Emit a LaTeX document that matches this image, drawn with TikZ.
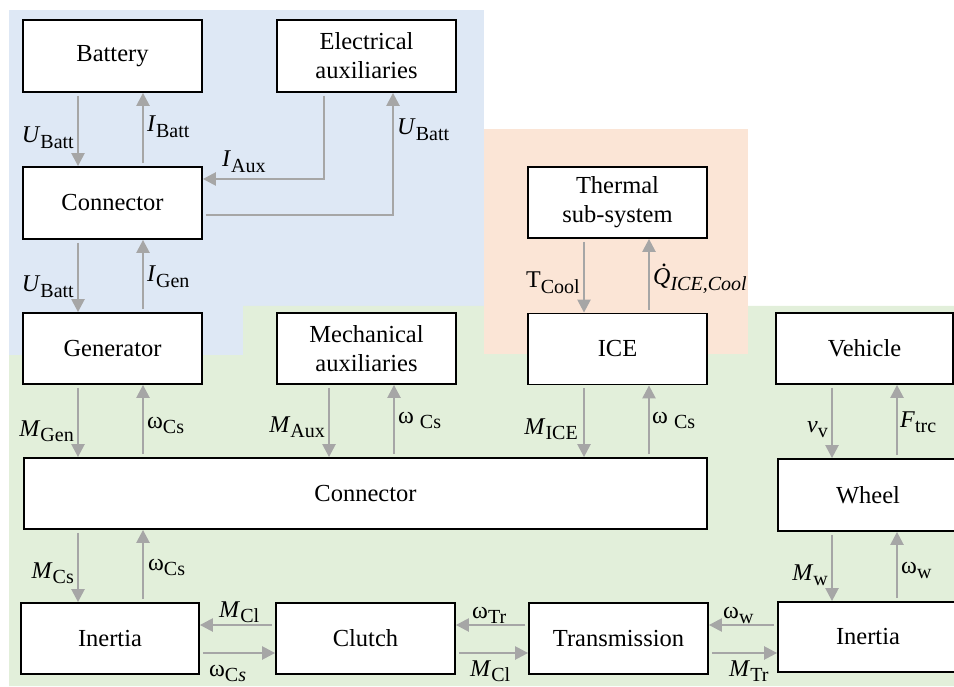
\documentclass[tikz,border=0pt]{standalone}
\usepackage{fontspec}
\setmainfont{Liberation Serif}
\usetikzlibrary{arrows.meta}
\definecolor{elecbg}{RGB}{222,232,245}
\definecolor{mechbg}{RGB}{226,239,218}
\definecolor{thermbg}{RGB}{251,229,214}
\definecolor{flow}{RGB}{166,166,166}
% signal name with a lowered, smaller subscript
\newcommand\sig[2]{#1\raisebox{-5.5pt}{\fontsize{20}{22}\selectfont #2}}
% italic Q with a dot above (time derivative)
\newcommand\qdot{\rlap{\hspace{8pt}\raisebox{18pt}{.}}\textit{Q}}

\begin{document}
\begin{tikzpicture}[x=1pt,y=-1pt,
  block/.style={draw=black, line width=1.8pt, fill=white, inner sep=0pt,
    align=center, font=\fontsize{24.5}{29}\selectfont},
  flowarrow/.style={draw=flow, line width=2.4pt,
    -{Triangle[length=13pt,width=13pt]}, shorten <=3pt},
  lbl/.style={inner sep=0pt, font=\fontsize{24}{26}\selectfont}]

\useasboundingbox (0,0) rectangle (954,687);
\clip (0,0) rectangle (954,687);

% domain backgrounds: electrical, mechanical, thermal
\fill[elecbg] (9,10) rectangle (484,355);
\fill[mechbg] (9,355) -- (243,355) -- (243,306) -- (954,306) -- (954,686) -- (9,686) -- cycle;
\fill[thermbg] (484,129) rectangle (748,354);

% blocks
\node[block, minimum width=179pt, minimum height=72pt] (bat)   at (112.5,56)  {Battery};
\node[block, minimum width=179pt, minimum height=72pt] (eaux)  at (366.5,56)  {Electrical\\auxiliaries};
\node[block, minimum width=179pt, minimum height=72pt] (conE)  at (112.5,203) {Connector};
\node[block, minimum width=179pt, minimum height=71pt] (gen)   at (112.5,348.5) {Generator};
\node[block, minimum width=179pt, minimum height=71pt] (maux)  at (366.5,348.5) {Mechanical\\auxiliaries};
\node[block, minimum width=179pt, minimum height=71pt] (therm) at (617.5,202.5) {Thermal\\sub-system};
\node[block, minimum width=179pt, minimum height=71pt] (ice)   at (617.5,349) {ICE};
\node[block, minimum width=177pt, minimum height=71pt] (veh)   at (864.5,348.5) {Vehicle};
\node[block, minimum width=683pt, minimum height=71pt] (conM)  at (365.5,493.5) {Connector};
\node[block, minimum width=180pt, minimum height=72pt] (wheel) at (868,495) {Wheel};
\node[block, minimum width=178pt, minimum height=71pt] (inL)   at (110,638.5) {Inertia};
\node[block, minimum width=179pt, minimum height=71pt] (clutch) at (365.5,638.5) {Clutch};
\node[block, minimum width=179pt, minimum height=71pt] (trans) at (618.5,638.5) {Transmission};
\node[block, minimum width=180pt, minimum height=70pt] (inR)   at (868,637) {Inertia};

% signal lanes
\coordinate (xa) at (78,0);
\coordinate (xb) at (143,0);
\coordinate (xc) at (329,0);
\coordinate (xd) at (394,0);
\coordinate (xe) at (584,0);
\coordinate (xf) at (649,0);
\coordinate (xg) at (832,0);
\coordinate (xh) at (897,0);
\coordinate (xi) at (324,0);
\coordinate (xj) at (393,0);
\coordinate (ya) at (0,625);
\coordinate (yb) at (0,653);
\coordinate (yc) at (0,179);
\coordinate (yd) at (0,215);

% electrical links
\draw[flowarrow] (bat.south -| xa) -- (conE.north -| xa);
\draw[flowarrow] (conE.north -| xb) -- (bat.south -| xb);
\draw[flowarrow] (eaux.south -| xi) |- (conE.east |- yc);
\draw[flowarrow] (conE.east |- yd) -| (eaux.south -| xj);
\draw[flowarrow] (conE.south -| xa) -- (gen.north -| xa);
\draw[flowarrow] (gen.north -| xb) -- (conE.south -| xb);

% thermal links
\draw[flowarrow] (therm.south -| xe) -- (ice.north -| xe);
\draw[flowarrow] (ice.north -| xf) -- (therm.south -| xf);

% mechanical links
\draw[flowarrow] (gen.south -| xa) -- (conM.north -| xa);
\draw[flowarrow] (conM.north -| xb) -- (gen.south -| xb);
\draw[flowarrow] (maux.south -| xc) -- (conM.north -| xc);
\draw[flowarrow] (conM.north -| xd) -- (maux.south -| xd);
\draw[flowarrow] (ice.south -| xe) -- (conM.north -| xe);
\draw[flowarrow] (conM.north -| xf) -- (ice.south -| xf);
\draw[flowarrow] (conM.south -| xa) -- (inL.north -| xa);
\draw[flowarrow] (inL.north -| xb) -- (conM.south -| xb);
\draw[flowarrow] (veh.south -| xg) -- (wheel.north -| xg);
\draw[flowarrow] (wheel.north -| xh) -- (veh.south -| xh);
\draw[flowarrow] (wheel.south -| xg) -- (inR.north -| xg);
\draw[flowarrow] (inR.north -| xh) -- (wheel.south -| xh);
\draw[flowarrow] (clutch.west |- ya) -- (inL.east |- ya);
\draw[flowarrow] (inL.east |- yb) -- (clutch.west |- yb);
\draw[flowarrow] (trans.west |- ya) -- (clutch.east |- ya);
\draw[flowarrow] (clutch.east |- yb) -- (trans.west |- yb);
\draw[flowarrow] (inR.west |- ya) -- (trans.east |- ya);
\draw[flowarrow] (trans.east |- yb) -- (inR.west |- yb);

% signal labels
\node[lbl, anchor=base east] (lUb1) at (74,143) {\sig{\textit{U}}{Batt}};
\node[lbl, anchor=base west] (lIb)  at (147,132) {\sig{\textit{I}}{Batt}};
\node[lbl, anchor=base west] (lIa)  at (222,167) {\sig{\textit{I}}{Aux}};
\node[lbl, anchor=base west] (lUb2) at (397,135) {\sig{\textit{U}}{Batt}};
\node[lbl, anchor=base east] (lUb3) at (74,292) {\sig{\textit{U}}{Batt}};
\node[lbl, anchor=base west] (lIg)  at (147,282) {\sig{\textit{I}}{Gen}};
\node[lbl, anchor=base east] (lTc)  at (580,288) {\sig{T}{Cool}};
\node[lbl, anchor=base west] (lQ)   at (653,285) {\sig{\qdot}{\textit{ICE,Cool}}};
\node[lbl, anchor=base east] (lMg)  at (74,436) {\sig{\textit{M}}{Gen}};
\node[lbl, anchor=base west] (lw1)  at (147,428) {\sig{ω}{Cs}};
\node[lbl, anchor=base east] (lMa)  at (325,432) {\sig{\textit{M}}{Aux}};
\node[lbl, anchor=base west] (lw2)  at (398,423) {\sig{ω\ }{Cs}};
\node[lbl, anchor=base east] (lMi)  at (578,434) {\sig{\textit{M}}{ICE}};
\node[lbl, anchor=base west] (lw3)  at (652,423) {\sig{ω\ }{Cs}};
\node[lbl, anchor=base east] (lvv)  at (828,432) {\sig{\textit{v}}{v}};
\node[lbl, anchor=base west] (lF)   at (900,427) {\sig{\textit{F}}{trc}};
\node[lbl, anchor=base east] (lMc)  at (74,578) {\sig{\textit{M}}{Cs}};
\node[lbl, anchor=base west] (lw4)  at (148,570) {\sig{ω}{Cs}};
\node[lbl, anchor=base east] (lMw)  at (828,580) {\sig{\textit{M}}{w}};
\node[lbl, anchor=base west] (lw5)  at (901,573) {\sig{ω}{w}};
\node[lbl, anchor=base west] (lMcl1) at (219,617) {\sig{\textit{M}}{Cl}};
\node[lbl, anchor=base west] (lw6)  at (209,676) {\sig{ω}{C\textit{s}}};
\node[lbl, anchor=base west] (lwt)  at (472,618) {\sig{ω}{Tr}};
\node[lbl, anchor=base west] (lMcl2) at (470,676) {\sig{\textit{M}}{Cl}};
\node[lbl, anchor=base west] (lww)  at (723,618) {\sig{ω}{w}};
\node[lbl, anchor=base west] (lMt)  at (729,676) {\sig{\textit{M}}{Tr}};
\end{tikzpicture}
\end{document}
